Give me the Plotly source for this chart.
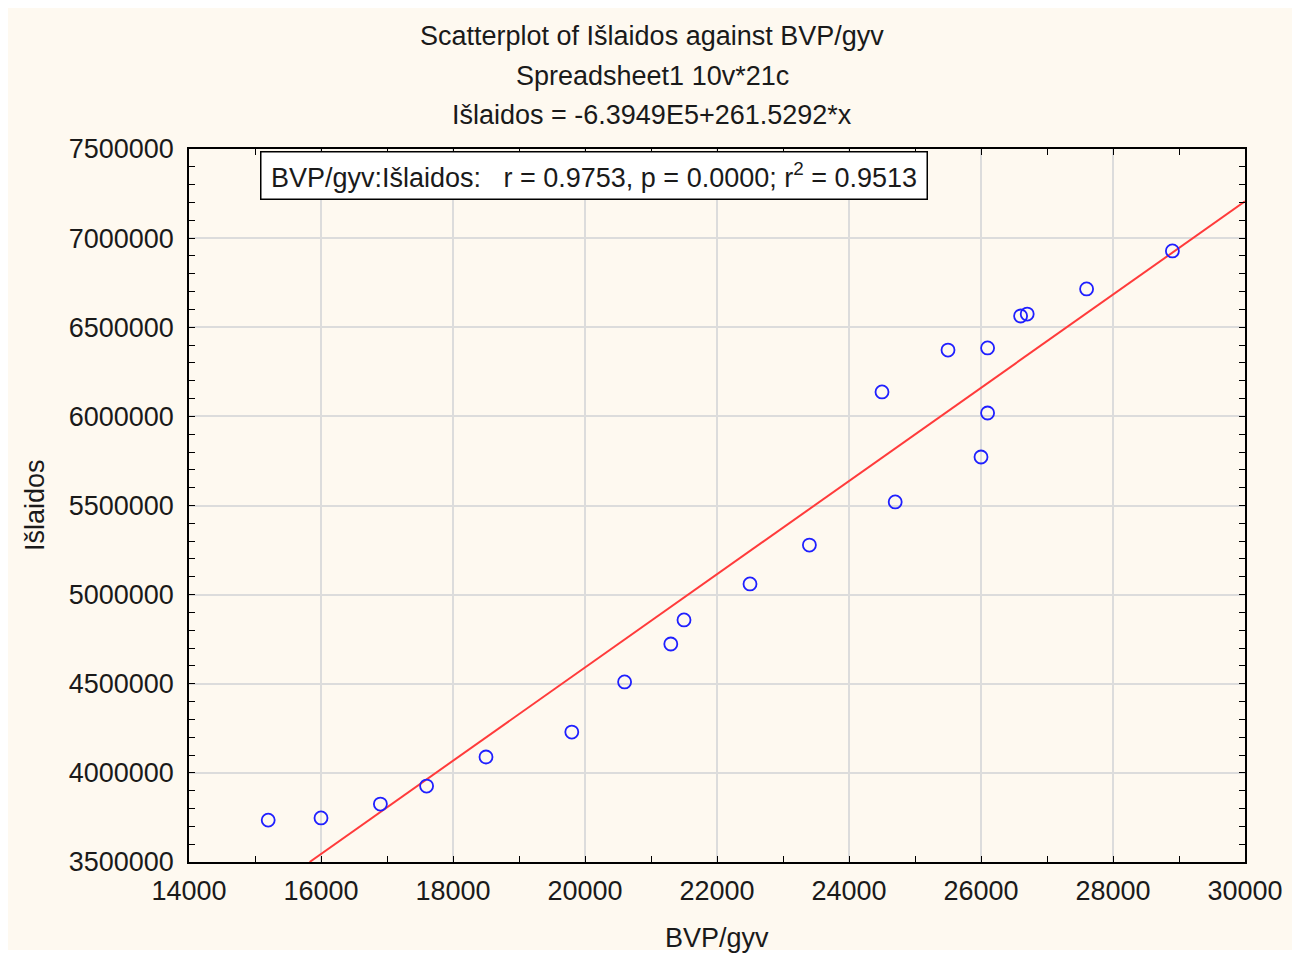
import plotly.graph_objects as go

bvp = [15200, 16000, 16900, 17600, 18500, 19800, 20600, 21300, 21500, 22500,
       23400, 24500, 24700, 25500, 26000, 26100, 26100, 26600, 26700, 27600, 28900]
islaidos = [3735000, 3747000, 3825000, 3926000, 4089000, 4229000, 4510000, 4723000,
            4858000, 5060000, 5278000, 6137000, 5520000, 6372000, 5772000, 6384000,
            6019000, 6563000, 6574000, 6715000, 6928000]

# fitted line from the title: Išlaidos = -6.3949E5 + 261.5292*x
intercept = -6.3949e5
slope = 261.5292
line_x = [(3500000 - intercept) / slope, 30000]
line_y = [intercept + slope * v for v in line_x]

title_lines = ["Scatterplot of Išlaidos against BVP/gyv",
               "Spreadsheet1 10v*21c",
               "Išlaidos = -6.3949E5+261.5292*x"]

FONT = "Liberation Sans, Arial, sans-serif"
TXT = "#1a1a1a"
FS = 27

# page body has an 8px margin; positions below are screen pixels
OFF = 8
W, H = 1300, 956
L, R, T, B = 189 - OFF, 1245 - OFF, 149 - OFF, 862 - OFF


def dx(px):
    return (px - OFF - L) / (R - L)


def dy(py):
    return (B - (py - OFF)) / (B - T)


fig = go.Figure()
fig.add_trace(go.Scatter(x=line_x, y=line_y, mode="lines",
                         line=dict(color="#ff3b3b", width=2), hoverinfo="skip"))
fig.add_trace(go.Scatter(x=bvp, y=islaidos, mode="markers",
                         marker=dict(symbol="circle-open", size=13,
                                     color="#1f1fff", line=dict(width=1.8))))

axis_common = dict(
    showline=True, linecolor="black", linewidth=1.5, mirror="ticks",
    ticks="inside", ticklen=6, tickcolor="black", tickwidth=1,
    showgrid=True, gridcolor="#dcdcdc", gridwidth=1.5, zeroline=False,
    tickfont=dict(family=FONT, size=FS, color=TXT),
    tickformat="d",
)
fig.update_xaxes(range=[14000, 30000], dtick=2000, tick0=14000,
                 minor=dict(dtick=1000, ticks="inside", ticklen=6, tickcolor="black",
                            showgrid=False),
                 ticklabelstandoff=4, **axis_common)
fig.update_yaxes(range=[3500000, 7500000], dtick=500000, tick0=3500000,
                 minor=dict(dtick=100000, ticks="inside", ticklen=6, tickcolor="black",
                            showgrid=False),
                 ticklabelstandoff=8, **axis_common)


def label(text, px, py, **kw):
    return dict(text=text, x=dx(px), y=dy(py), xref="x domain", yref="y domain",
                xanchor="center", yanchor="middle", showarrow=False,
                font=dict(family=FONT, size=FS, color=TXT), **kw)


annotations = [label(t, 652, 36 + 39.5 * i) for i, t in enumerate(title_lines)]

annotations.append(dict(
    text="BVP/gyv:Išlaidos:   r = 0.9753, p = 0.0000; r<sup>2</sup> = 0.9513",
    x=dx(260), y=dy(151), xref="x domain", yref="y domain",
    xanchor="left", yanchor="top", showarrow=False, bgcolor="white",
    bordercolor="black", borderwidth=1.5, borderpad=3, width=659, height=40,
    align="center", font=dict(family=FONT, size=FS, color=TXT)))
annotations.append(label("BVP/gyv", 717, 938))
annotations.append(label("Išlaidos", 35, 505, textangle=-90))

fig.update_layout(
    width=W, height=H,
    margin=dict(l=L, r=W - R, t=T, b=H - B),
    paper_bgcolor="white", plot_bgcolor="white",
    showlegend=False,
    annotations=annotations,
    shapes=[dict(type="rect", xref="paper", yref="paper", layer="below",
                 x0=dx(7), x1=dx(1293), y0=dy(950), y1=dy(7),
                 fillcolor="#fef9f0", line=dict(width=0))],
)

fig.write_html("out.html")
